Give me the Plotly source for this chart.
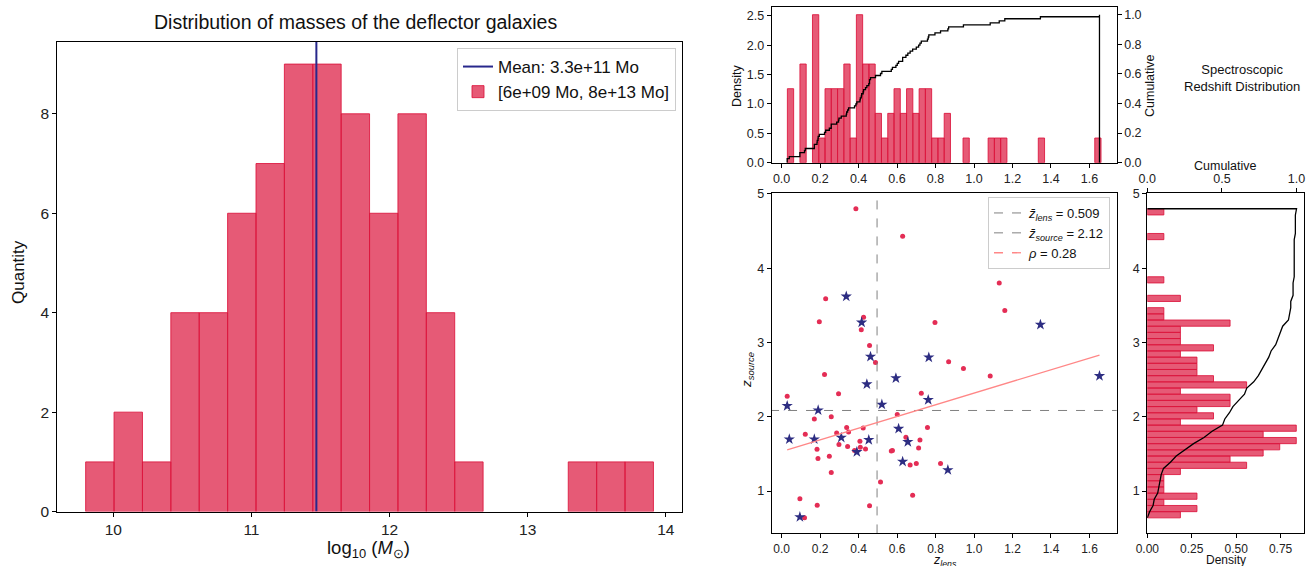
import numpy as np
import plotly.graph_objects as go

W, H = 1308, 566
FONT = "Liberation Sans, Arial, Helvetica, sans-serif"

# ---------------- data: deflector masses (left) ----------------
mass_counts = [1, 2, 1, 4, 4, 6, 7, 9, 9, 8, 6, 8, 4, 1, 0, 0, 0, 1, 1, 1]
mass_lo, mass_hi = 9.80, 13.91
mass_mean_log = 11.47
mass_mean_label = "Mean: 3.3e+11 Mo"
mass_range_label = "[6e+09 Mo, 8e+13 Mo]"

# ---------------- data: redshifts (right) ----------------
red_zl = [0.386, 0.629, 0.229, 0.196, 0.426, 0.414, 0.457, 0.488, 0.223, 0.797,
          0.868, 0.945, 1.084, 1.131, 1.160, 0.029, 0.296, 0.170, 0.258, 0.123,
          0.286, 0.338, 0.348, 0.424, 0.298, 0.407, 0.343, 0.409, 0.184, 0.379,
          0.436, 0.189, 0.248, 0.258, 0.095, 0.185, 0.119, 0.457, 0.514, 0.601,
          0.726, 0.758, 0.646, 0.719, 0.712, 0.570, 0.576, 0.700, 0.668, 0.826,
          0.681]
red_zs = [4.80, 4.43, 3.59, 3.28, 3.34, 3.17, 2.96, 2.73, 2.57, 3.27,
          2.74, 2.65, 2.55, 3.80, 3.43, 2.277, 2.31, 1.97, 2.00, 1.765,
          1.783, 1.855, 1.796, 1.85, 1.626, 1.67, 1.60, 1.59, 1.563, 1.545,
          1.567, 1.44, 1.47, 1.25, 0.898, 0.808, 0.642, 0.804, 1.122, 2.03,
          2.318, 1.855, 1.725, 1.689, 1.58, 1.54, 1.545, 1.37, 1.35, 1.37,
          0.943]
star_zl = [0.336, 0.416, 0.462, 0.594, 0.765, 1.345, 1.652, 0.029, 0.190, 0.040,
           0.170, 0.310, 0.391, 0.453, 0.443, 0.521, 0.762, 0.608, 0.656, 0.629,
           0.864, 0.095]
star_zs = [3.62, 3.27, 2.81, 2.52, 2.80, 3.24, 2.55, 2.147, 2.088, 1.697,
           1.697, 1.72, 1.527, 1.689, 2.439, 2.165, 2.228, 1.84, 1.662, 1.397,
           1.284, 0.651]

lens_counts = [3, 0, 4, 0, 6, 1, 3, 3, 3, 4, 1, 6, 4, 4, 2, 1, 2, 3, 2, 3,
               2, 3, 3, 1, 1, 2, 0, 0, 1, 0, 0, 0, 1, 1, 1, 0, 0, 0, 0, 0,
               1, 0, 0, 0, 0, 0, 0, 0, 0, 1]
lens_lo, lens_hi = 0.03, 1.66
source_counts = [2, 3, 1, 3, 1, 1, 1, 2, 6, 5, 7, 8, 9, 7, 9, 2, 4, 3, 5, 5,
                 2, 6, 4, 3, 3, 3, 2, 4, 2, 2, 2, 5, 1, 1, 0, 2, 0, 0, 1, 0,
                 0, 0, 0, 0, 0, 1, 0, 0, 0, 1]
source_lo, source_hi = 0.64, 4.80
lens_mean_line = 0.496
source_mean_line = 2.085
lens_mean_label = "0.509"
source_mean_label = "2.12"
rho_label = "0.28"
fit_slope, fit_intercept = 0.787, 1.531

# ---------------- styling ----------------
BAR_FILL = "rgba(220,20,60,0.7)"
BAR_EDGE = "rgba(220,20,60,0.85)"
NAVY = "rgb(40,40,140)"
DOT = "rgb(228,45,85)"
STAR = "rgb(45,45,130)"


def clamp(v):
    return min(1.0, max(0.0, v))


def px(x):
    return x / W


def py(y):
    return 1 - y / H


def dom_x(a, b):
    return [clamp(px(a)), clamp(px(b))]


def dom_y(bottom, top):
    return [clamp(py(bottom)), clamp(py(top))]


fig = go.Figure()

# ----- left histogram -----
me = np.linspace(mass_lo, mass_hi, len(mass_counts) + 1)
mc = (me[:-1] + me[1:]) / 2
mw = me[1] - me[0]
mcnt = np.array(mass_counts, dtype=float)
keep = mcnt > 0
fig.add_trace(go.Scatter(x=[mass_mean_log, mass_mean_log], y=[0, 9.45], mode="lines",
                         line=dict(color=NAVY, width=2), name=mass_mean_label,
                         xaxis="x", yaxis="y", legend="legend", legendrank=1))
fig.add_trace(go.Bar(x=mc[keep], y=mcnt[keep], width=mw,
                     marker=dict(color=BAR_FILL, line=dict(color=BAR_EDGE, width=1)),
                     name=mass_range_label, xaxis="x", yaxis="y", legend="legend",
                     legendrank=2))

# ----- top histogram of z_lens -----
le = np.linspace(lens_lo, lens_hi, len(lens_counts) + 1)
lc = (le[:-1] + le[1:]) / 2
lw = le[1] - le[0]
lcnt = np.array(lens_counts, dtype=float)
ldens = lcnt / (lcnt.sum() * lw)
k = lcnt > 0
fig.add_trace(go.Bar(x=lc[k], y=ldens[k], width=lw,
                     marker=dict(color=BAR_FILL, line=dict(color=BAR_EDGE, width=1)),
                     xaxis="x2", yaxis="y2", showlegend=False))
zl_all = np.sort(np.array(red_zl + star_zl))
n = len(zl_all)
cx = np.concatenate([[zl_all[0]], zl_all, [zl_all[-1]]])
cy = np.concatenate([[0.0], np.arange(1, n + 1) / n, [0.0]])
fig.add_trace(go.Scatter(x=cx, y=cy, mode="lines", line=dict(color="black", width=1.3, shape="hv"),
                         xaxis="x2", yaxis="y3", showlegend=False))

# ----- scatter -----
fig.add_trace(go.Scatter(x=red_zl, y=red_zs, mode="markers",
                         marker=dict(color=DOT, size=5), xaxis="x4", yaxis="y4", showlegend=False))
fig.add_trace(go.Scatter(x=star_zl, y=star_zs, mode="markers",
                         marker=dict(color=STAR, size=8.5, symbol="star"),
                         xaxis="x4", yaxis="y4", showlegend=False))
fig.add_trace(go.Scatter(x=[lens_mean_line, lens_mean_line], y=[0.43, 5.01], mode="lines",
                         line=dict(color="gray", width=1, dash="dash"),
                         name="<i>z̄</i><sub><i>lens</i></sub> = " + lens_mean_label,
                         xaxis="x4", yaxis="y4", legend="legend2"))
fig.add_trace(go.Scatter(x=[-0.06, 1.75], y=[source_mean_line, source_mean_line], mode="lines",
                         line=dict(color="gray", width=1, dash="dash"),
                         name="<i>z̄</i><sub><i>source</i></sub> = " + source_mean_label,
                         xaxis="x4", yaxis="y4", legend="legend2"))
zl_arr = np.array(red_zl + star_zl)
fx = np.array([zl_arr.min(), zl_arr.max()])
fig.add_trace(go.Scatter(x=fx, y=fit_slope * fx + fit_intercept, mode="lines",
                         line=dict(color="rgb(255,135,135)", width=1.3),
                         xaxis="x4", yaxis="y4", showlegend=False))
fig.add_trace(go.Scatter(x=[None], y=[None], mode="lines",
                         line=dict(color="rgb(255,135,135)", width=1.3, dash="dash"),
                         name="<i>ρ</i> = " + rho_label,
                         xaxis="x4", yaxis="y4", legend="legend2"))

# ----- right histogram of z_source -----
se = np.linspace(source_lo, source_hi, len(source_counts) + 1)
sc = (se[:-1] + se[1:]) / 2
sw = se[1] - se[0]
scnt = np.array(source_counts, dtype=float)
sdens = scnt / (scnt.sum() * sw)
k = scnt > 0
fig.add_trace(go.Bar(y=sc[k], x=sdens[k], width=sw, orientation="h",
                     marker=dict(color=BAR_FILL, line=dict(color=BAR_EDGE, width=1)),
                     xaxis="x5", yaxis="y5", showlegend=False))
scum = np.concatenate([[0.0], np.cumsum(scnt)]) / scnt.sum()
ex = np.concatenate([scum, [0.0]])
ey = np.concatenate([se, [se[-1]]])
fig.add_trace(go.Scatter(x=ex, y=ey, mode="lines", line=dict(color="black", width=1.3),
                         xaxis="x6", yaxis="y5", showlegend=False))

# ---------------- axes ----------------
TICK_L = dict(size=15.5, color="#222")
TICK_R = dict(size=12.5, color="#222")
TICK_B = dict(size=12, color="#222")
base = dict(showline=True, linecolor="black", linewidth=1, ticks="outside", ticklen=4,
            tickwidth=1, tickcolor="black", showgrid=False, zeroline=False,
            automargin=False, mirror=True, tickfont=TICK_R)
zticks = [0, 0.2, 0.4, 0.6, 0.8, 1.0, 1.2, 1.4, 1.6]

L = dict(
    xaxis=dict(base, domain=dom_x(57.3, 681.8), range=[9.5946, 14.1154], anchor="y",
               tickvals=[10, 11, 12, 13, 14], tickfont=TICK_L),
    yaxis=dict(base, domain=dom_y(511.6, 41.7), range=[0, 9.45], anchor="x",
               tickvals=[0, 2, 4, 6, 8], tickfont=TICK_L),
    xaxis2=dict(base, domain=dom_x(771.7, 1116.7), range=[-0.0515, 1.7415], anchor="y2",
                tickvals=zticks, tickformat=".1f"),
    yaxis2=dict(base, domain=dom_y(162.7, 7.3), range=[0, 2.647], anchor="x2",
                tickvals=[0, 0.5, 1.0, 1.5, 2.0, 2.5], tickformat=".1f"),
    yaxis3=dict(base, overlaying="y2", side="right", anchor="x2", range=[0, 1.05],
                showline=False, mirror=False,
                tickvals=[0, 0.2, 0.4, 0.6, 0.8, 1.0], tickformat=".1f"),
    xaxis4=dict(base, domain=dom_x(771.7, 1116.7), range=[-0.0515, 1.7415], anchor="y4",
                tickvals=zticks, tickformat=".1f", tickfont=TICK_B),
    yaxis4=dict(base, domain=dom_y(533.3, 193.3), range=[0.432, 5.008], anchor="x4",
                tickvals=[1, 2, 3, 4, 5]),
    xaxis5=dict(base, domain=dom_x(1147.3, 1304), range=[0, 0.882], anchor="y5",
                tickvals=[0, 0.25, 0.5, 0.75], tickformat=".2f", tickfont=TICK_B),
    yaxis5=dict(base, domain=dom_y(533.3, 193.3), range=[0.432, 5.008], anchor="x5",
                tickvals=[1, 2, 3, 4, 5]),
    xaxis6=dict(base, overlaying="x5", side="top", anchor="y5", range=[0, 1.05],
                showline=False, mirror=False, tickvals=[0, 0.5, 1.0], tickformat=".1f"),
)

ann = []


def note(x, y, text, size=12, angle=0):
    ann.append(dict(x=px(x), y=py(y), xref="paper", yref="paper", text=text, showarrow=False,
                    xanchor="center", yanchor="middle", textangle=angle,
                    font=dict(size=size, color="#111")))


note(355, 22, "Distribution of masses of the deflector galaxies", 19.5)
note(369, 549, "log<sub>10</sub> (<i>M</i><sub>⊙</sub>)", 18.5)
note(18, 272, "Quantity", 17, -90)
note(737, 86, "Density", 12.5, -90)
note(1150, 86, "Cumulative", 12.5, -90)
note(1242, 78, "Spectroscopic<br>Redshift Distribution", 13)
note(747, 370, "<i>z</i><sub><i>source</i></sub>", 13.5, -90)
note(945, 560.5, "<i>z</i><sub><i>lens</i></sub>", 12.5)
note(1225, 166, "Cumulative", 12.5)
note(1226, 560, "Density", 12)

fig.update_layout(
    width=W, height=H, margin=dict(l=0, r=0, t=0, b=0, autoexpand=False),
    template="none", paper_bgcolor="white", plot_bgcolor="white",
    font=dict(family=FONT, color="#111"), barmode="overlay",
    annotations=ann,
    legend=dict(x=px(676), y=py(48), xanchor="right", yanchor="top", bgcolor="white",
                bordercolor="#cccccc", borderwidth=1, font=dict(size=17), traceorder="normal"),
    legend2=dict(x=px(1110), y=py(197), xanchor="right", yanchor="top", bgcolor="white",
                 bordercolor="#cccccc", borderwidth=1, font=dict(size=13)),
    **L,
)

fig.write_html("out.html", config={"displayModeBar": False},
               post_script="document.body.style.margin='0px';document.body.style.overflow='hidden';")
